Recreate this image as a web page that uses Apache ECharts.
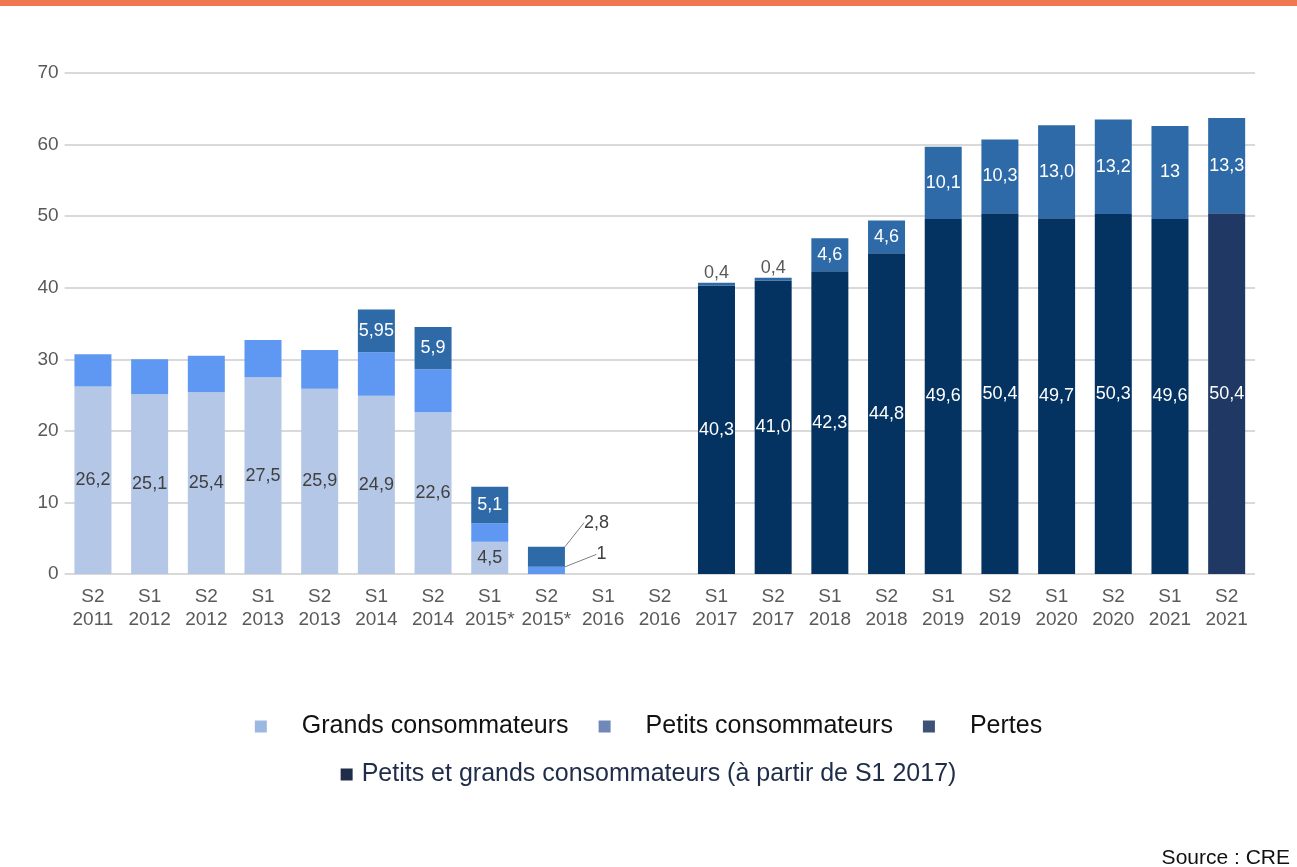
<!DOCTYPE html>
<html>
<head>
<meta charset="utf-8">
<script src="https://cdn.jsdelivr.net/npm/echarts@6/dist/echarts.min.js"></script>
<style>
  html, body { margin: 0; padding: 0; background: #fff; }
  #chart { width: 1297px; height: 867px; }
</style>
</head>
<body>
<div id="chart"></div>
<script>
// catégories (semestres)
const categories = ['S2\n2011', 'S1\n2012', 'S2\n2012', 'S1\n2013', 'S2\n2013', 'S1\n2014', 'S2\n2014',
  'S1\n2015*', 'S2\n2015*', 'S1\n2016', 'S2\n2016', 'S1\n2017', 'S2\n2017', 'S1\n2018', 'S2\n2018',
  'S1\n2019', 'S2\n2019', 'S1\n2020', 'S2\n2020', 'S1\n2021', 'S2\n2021']
const yTicks = [0, 10, 20, 30, 40, 50, 60, 70]

// valeurs
const grands = [26.2, 25.1, 25.4, 27.5, 25.9, 24.9, 22.6, 4.5, null, null, null,
  null, null, null, null, null, null, null, null, null, null]
const petits = [4.5, 4.9, 5.1, 5.2, 5.4, 6.1, 6.0, 2.6, 1, null, null,
  null, null, null, null, null, null, null, null, null, null]
const petitsGrands = [null, null, null, null, null, null, null, null, null, null, null,
  40.3, 41.0, 42.3, 44.8, 49.6, 50.4, 49.7, 50.3, 49.6, 50.4]
const pertes = [null, null, null, null, null, 5.95, 5.9, 5.1, 2.8, null, null,
  0.4, 0.4, 4.6, 4.6, 10.1, 10.3, 13.0, 13.2, 13, 13.3]
const pertesLabels = ['', '', '', '', '', '5,95', '5,9', '5,1', '2,8', '', '',
  '0,4', '0,4', '4,6', '4,6', '10,1', '10,3', '13,0', '13,2', '13', '13,3']
const petitsLabels = ['', '', '', '', '', '', '', '', '1', '', '',
  '', '', '', '', '', '', '', '', '', '']

const FONT = "'Liberation Sans', Arial, sans-serif"
const leaderIdx = categories.indexOf('S2\n2015*')

const fmt = v => v.toFixed(1).replace('.', ',')

const option = {
  animation: false,
  grid: { left: 64.6, right: 42, top: 73, bottom: 293 },
  xAxis: {
    type: 'category',
    data: categories,
    axisLine: { show: false },
    axisTick: { show: false },
    axisLabel: { interval: 0, color: '#595959', fontFamily: FONT, fontSize: 19, lineHeight: 23, margin: 11 }
  },
  yAxis: {
    type: 'value',
    min: yTicks[0],
    max: yTicks[yTicks.length - 1],
    interval: 10,
    axisLabel: { color: '#595959', fontFamily: FONT, fontSize: 19, margin: 6 },
    splitLine: { lineStyle: { color: '#d9d9d9', width: 2 } }
  },
  legend: [
    {
      top: 709,
      left: 'center',
      selectedMode: false,
      icon: 'rect',
      itemWidth: 12,
      itemHeight: 12,
      itemGap: 30,
      textStyle: { color: '#111', fontFamily: FONT, fontSize: 25, padding: [0, 0, 0, 30] },
      data: [
        { name: 'Grands consommateurs', itemStyle: { color: '#9bb8e0' } },
        { name: 'Petits consommateurs', itemStyle: { color: '#7189b8' } },
        { name: 'Pertes', itemStyle: { color: '#3e5277' } }
      ]
    },
    {
      top: 757,
      left: 'center',
      selectedMode: false,
      icon: 'rect',
      itemWidth: 12,
      itemHeight: 12,
      textStyle: { color: '#1f2d4a', fontFamily: FONT, fontSize: 25, padding: [0, 0, 0, 4] },
      data: [
        { name: 'Petits et grands consommateurs (à partir de S1 2017)', itemStyle: { color: '#1f2d4a' } }
      ]
    }
  ],
  series: [
    {
      name: 'Grands consommateurs',
      type: 'bar',
      stack: 'total',
      barWidth: 37,
      data: grands,
      itemStyle: { color: '#b4c7e7' },
      label: {
        show: true,
        position: 'inside',
        color: '#404040',
        fontFamily: FONT,
        fontSize: 18,
        formatter: p => fmt(p.value)
      }
    },
    {
      name: 'Petits consommateurs',
      type: 'bar',
      stack: 'total',
      data: petits.map((v, i) => i === leaderIdx
        ? { value: v, label: { show: true }, labelLine: { show: true } }
        : v),
      itemStyle: { color: '#5e98f2' },
      label: {
        show: false,
        color: '#404040',
        fontFamily: FONT,
        fontSize: 18,
        formatter: p => petitsLabels[p.dataIndex]
      },
      labelLine: { show: false, lineStyle: { color: '#7f7f7f', width: 1 } },
      labelLayout: p => p.dataIndex === leaderIdx ? { dx: 55, dy: -16 } : {}
    },
    {
      name: 'Petits et grands consommateurs (à partir de S1 2017)',
      type: 'bar',
      stack: 'total',
      data: petitsGrands.map((v, i) => i === petitsGrands.length - 1
        ? { value: v, itemStyle: { color: '#1f3864' } }
        : v),
      itemStyle: { color: '#053361' },
      label: {
        show: true,
        position: 'inside',
        color: '#fff',
        fontFamily: FONT,
        fontSize: 18,
        formatter: p => fmt(p.value)
      }
    },
    {
      name: 'Pertes',
      type: 'bar',
      stack: 'total',
      data: pertes.map((v, i) => {
        if (i === leaderIdx) {
          return { value: v, label: { color: '#404040' }, labelLine: { show: true } }
        }
        if (v !== null && v < 1) {
          return { value: v, label: { position: 'top', distance: 1, color: '#595959' } }
        }
        return v
      }),
      itemStyle: { color: '#2d6aa7' },
      label: {
        show: true,
        position: 'inside',
        color: '#fff',
        fontFamily: FONT,
        fontSize: 18,
        formatter: p => pertesLabels[p.dataIndex]
      },
      labelLine: { show: false, lineStyle: { color: '#7f7f7f', width: 1 } },
      labelLayout: p => p.dataIndex === leaderIdx ? { dx: 50, dy: -34 } : {}
    }
  ],
  graphic: [
    {
      type: 'rect',
      left: 0,
      top: 0,
      shape: { width: 1297, height: 6 },
      style: { fill: '#ef7752' }
    },
    {
      type: 'text',
      right: 7,
      top: 848,
      style: { text: 'Source : CRE', fill: '#111', font: "21px 'Liberation Sans', sans-serif" }
    }
  ]
}

const chart = echarts.init(document.getElementById('chart'))
chart.setOption(option)
</script>
</body>
</html>
